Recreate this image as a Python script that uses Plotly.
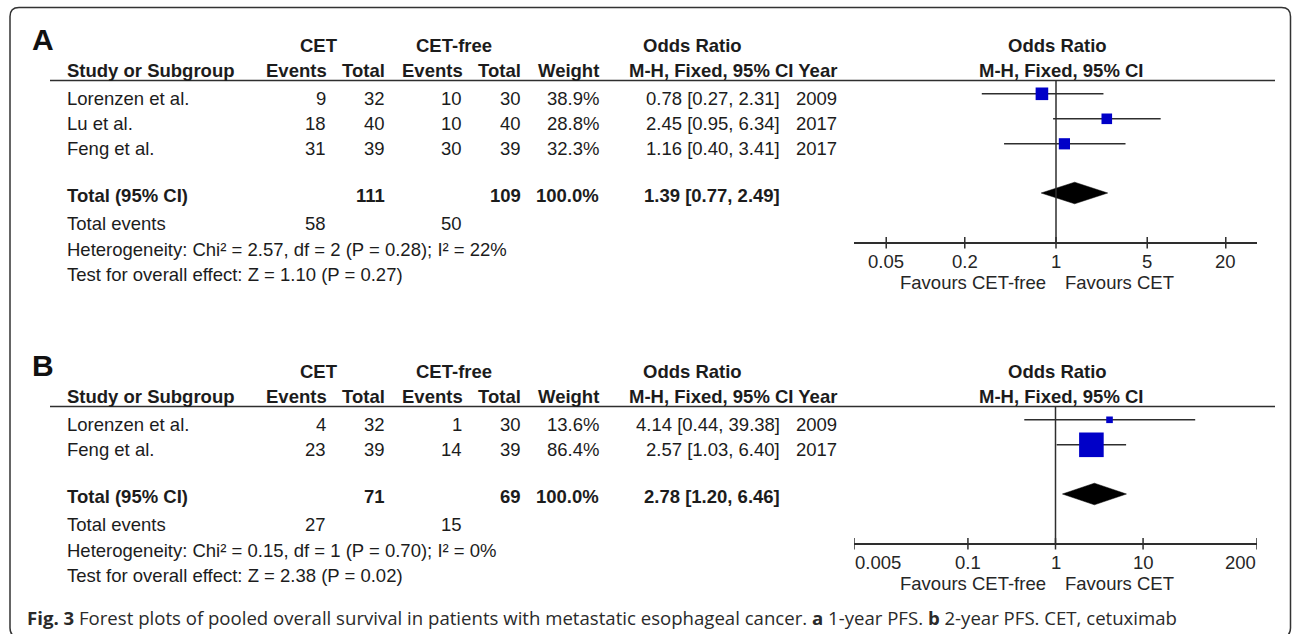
import math
import plotly.graph_objects as go

W, H = 1292, 634

# ---------------- Panel A data (1-year PFS) ----------------
studies_a = ["Lorenzen et al.", "Lu et al.", "Feng et al."]
cet_events_a = [9, 18, 31]
cet_total_a = [32, 40, 39]
free_events_a = [10, 10, 30]
free_total_a = [30, 40, 39]
weight_a = [38.9, 28.8, 32.3]
or_a = [0.78, 2.45, 1.16]
ci_low_a = [0.27, 0.95, 0.40]
ci_high_a = [2.31, 6.34, 3.41]
year_a = [2009, 2017, 2017]
pooled_a = [1.39, 0.77, 2.49]          # OR, low, high
sum_total_a = [111, 109]
sum_events_a = [58, 50]
heterogeneity_a = "Heterogeneity: Chi² = 2.57, df = 2 (P = 0.28); I² = 22%"
overall_a = "Test for overall effect: Z = 1.10 (P = 0.27)"
ticks_a = [0.05, 0.2, 1, 5, 20]

# ---------------- Panel B data (2-year PFS) ----------------
studies_b = ["Lorenzen et al.", "Feng et al."]
cet_events_b = [4, 23]
cet_total_b = [32, 39]
free_events_b = [1, 14]
free_total_b = [30, 39]
weight_b = [13.6, 86.4]
or_b = [4.14, 2.57]
ci_low_b = [0.44, 1.03]
ci_high_b = [39.38, 6.40]
year_b = [2009, 2017]
pooled_b = [2.78, 1.20, 6.46]
sum_total_b = [71, 69]
sum_events_b = [27, 15]
heterogeneity_b = "Heterogeneity: Chi² = 0.15, df = 1 (P = 0.70); I² = 0%"
overall_b = "Test for overall effect: Z = 2.38 (P = 0.02)"
ticks_b = [0.005, 0.1, 1, 10, 200]

caption = ("<b>Fig. 3</b> Forest plots of pooled overall survival in patients with "
           "metastatic esophageal cancer. <b>a</b> 1-year PFS. <b>b</b> 2-year PFS. "
           "CET, cetuximab")

# ---------------- styles ----------------
ARIAL = "Liberation Sans, Arial, Helvetica, sans-serif"
TXT = "#1c1c1c"
LINE = "#2e2e2e"
BLUE = "#0000C8"
FS = 18.5
AX_L, AX_R = 854, 1257          # pixel extent of forest axis

annotations = []
shapes = []
traces = []


def text(s, x, y, anchor="left", size=FS, bold=False, color=TXT, family=ARIAL,
         xref="x3"):
    annotations.append(dict(
        text=("<b>%s</b>" % s) if bold else s, x=x, y=y, xref=xref, yref="y",
        xanchor=anchor, yanchor="middle", showarrow=False, borderpad=0,
        font=dict(family=family, size=size, color=color)))


def hline(x0, x1, y, width=1.5):
    shapes.append(dict(type="line", xref="x3", yref="y", x0=x0, x1=x1, y0=y, y1=y,
                       line=dict(color=LINE, width=width)))


def panel(letter, top, xname, studies, ce, ct, fe, ft, wt, orr, lo, hi, yr,
          pooled, stot, sev, het, ovr, ticks, box_px, tick_anchor):
    text(letter, 42.5, top + 39, anchor="center", size=30, bold=True, color="#111")
    # headers
    h1, h2 = top + 45, top + 70
    text("CET", 318.7, h1, "center", bold=True)
    text("CET-free", 454, h1, "center", bold=True)
    text("Odds Ratio", 692.7, h1, "center", bold=True)
    text("Odds Ratio", 1057, h1, "center", bold=True)
    text("Study or Subgroup", 65.5, h2, "left", bold=True)
    text("Events", 327.5, h2, "right", bold=True)
    text("Total", 386.4, h2, "right", bold=True)
    text("Events", 463.5, h2, "right", bold=True)
    text("Total", 522.4, h2, "right", bold=True)
    text("Weight", 600, h2, "right", bold=True)
    text("M-H, Fixed, 95% CI Year", 838.3, h2, "right", bold=True)
    text("M-H, Fixed, 95% CI", 1060.5, h2, "center", bold=True)
    y_head = top + 80.5
    hline(50, 1275, y_head)

    rows = [top + 98.3 + 25 * i for i in range(len(studies))]
    for i, s in enumerate(studies):
        y = rows[i]
        text(s, 65.5, y, "left")
        text(str(ce[i]), 327, y, "right")
        text(str(ct[i]), 386, y, "right")
        text(str(fe[i]), 463, y, "right")
        text(str(ft[i]), 522, y, "right")
        text("%.1f%%" % wt[i], 600, y, "right")
        text("%.2f [%.2f, %.2f]" % (orr[i], lo[i], hi[i]), 781, y, "right")
        text(str(yr[i]), 838.3, y, "right")

    y_tot = rows[-1] + 47
    text("Total (95% CI)", 65.5, y_tot, "left", bold=True)
    text(str(stot[0]), 386, y_tot, "right", bold=True)
    text(str(stot[1]), 522, y_tot, "right", bold=True)
    text("100.0%", 600.3, y_tot, "right", bold=True)
    text("%.2f [%.2f, %.2f]" % tuple(pooled), 781, y_tot, "right", bold=True)
    text("Total events", 65.5, y_tot + 28.4, "left")
    text(str(sev[0]), 327, y_tot + 28.4, "right")
    text(str(sev[1]), 463, y_tot + 28.4, "right")
    text(het, 65.5, y_tot + 54, "left")
    text(ovr, 65.5, y_tot + 79, "left")

    # ---- forest plot ----
    y_axis = y_tot + 47.5
    fy = [r - 4.5 for r in rows]
    cx, cy = [], []
    for i in range(len(studies)):
        cx += [lo[i], hi[i], None]
        cy += [fy[i], fy[i], None]
    traces.append(go.Scatter(x=cx, y=cy, xaxis=xname, yaxis="y", mode="lines",
                             line=dict(color=LINE, width=1.5), hoverinfo="skip",
                             showlegend=False))
    traces.append(go.Scatter(x=orr, y=fy, xaxis=xname, yaxis="y", mode="markers",
                             marker=dict(symbol="square", size=box_px, color=BLUE,
                                         opacity=1, line=dict(width=0, color=BLUE)),
                             showlegend=False, hoverinfo="skip"))
    yd = y_tot - 2.3
    hd = 10.8
    traces.append(go.Scatter(x=[pooled[1], pooled[0], pooled[2], pooled[0], pooled[1]],
                             y=[yd, yd - hd, yd, yd + hd, yd],
                             xaxis=xname, yaxis="y", mode="lines", fill="toself",
                             fillcolor="#000000", line=dict(color="#000000", width=0.5),
                             showlegend=False, hoverinfo="skip"))
    # line of no effect
    shapes.append(dict(type="line", xref=xname, yref="y", x0=1, x1=1,
                       y0=y_head, y1=y_axis, line=dict(color=LINE, width=1.5)))
    # ticks crossing the axis + labels
    for k, t in enumerate(ticks):
        shapes.append(dict(type="line", xref=xname, yref="y", x0=t, x1=t,
                           y0=y_axis - 5.7, y1=y_axis + 5.7,
                           line=dict(color=LINE, width=1.5)))
        lab = ("%g" % t)
        text(lab, math.log10(t), y_axis + 18.5, tick_anchor[k], color="#262626",
             xref=xname)
    text("Favours CET-free", 1047, y_axis + 39.5, "right", color="#262626")
    text("Favours CET", 1064, y_axis + 39.5, "left", color="#262626")
    return y_axis


ya = panel("A", 0, "x", studies_a, cet_events_a, cet_total_a, free_events_a,
           free_total_a, weight_a, or_a, ci_low_a, ci_high_a, year_a, pooled_a,
           sum_total_a, sum_events_a, heterogeneity_a, overall_a, ticks_a,
           [12.6, 10.6, 11.2], ["center"] * 5)
yb = panel("B", 326, "x2", studies_b, cet_events_b, cet_total_b, free_events_b,
           free_total_b, weight_b, or_b, ci_low_b, ci_high_b, year_b, pooled_b,
           sum_total_b, sum_events_b, heterogeneity_b, overall_b, ticks_b,
           [6.6, 24.6], ["left", "center", "center", "center", "right"])

# caption
text(caption, 26, 617, "left", size=18.6, color="#2a2a2a",
     family="Open Sans, Noto Sans, sans-serif")

# rounded frame (bottom edge runs just past the picture)
L, T, R, B, r = 10, 7.5, 1290.5, 637, 9
path = (f"M {L+r},{T} L {R-r},{T} Q {R},{T} {R},{T+r} L {R},{B-r} Q {R},{B} {R-r},{B} "
        f"L {L+r},{B} Q {L},{B} {L},{B-r} L {L},{T+r} Q {L},{T} {L+r},{T} Z")
shapes.append(dict(type="path", xref="x3", yref="y", path=path,
                   line=dict(color="#333333", width=1.5)))

# invisible trace to create the pixel-space subplot
traces.append(go.Scatter(x=[0], y=[0], xaxis="x3", yaxis="y", mode="markers",
                         marker=dict(opacity=0), showlegend=False, hoverinfo="skip"))

fig = go.Figure(data=traces)

decade_a = 130.5
common = dict(type="log", domain=[AX_L / W, AX_R / W], anchor="free",
              showline=True, linecolor=LINE, linewidth=1.5, ticks="",
              showticklabels=False, showgrid=False, zeroline=False)
fig.update_layout(
    width=W, height=H, margin=dict(l=0, r=0, t=0, b=0),
    paper_bgcolor="white", plot_bgcolor="rgba(0,0,0,0)",
    showlegend=False,
    xaxis=dict(**common, range=[-(1056 - AX_L) / decade_a, (AX_R - 1056) / decade_a],
               position=1 - ya / H, tickvals=ticks_a),
    xaxis2=dict(**common, range=[math.log10(ticks_b[0]), math.log10(ticks_b[-1])],
                position=1 - yb / H, tickvals=ticks_b),
    xaxis3=dict(domain=[0, 1], range=[0, W], anchor="y", visible=False),
    yaxis=dict(domain=[0, 1], range=[H, 0], visible=False),
    annotations=annotations,
    shapes=shapes,
)

fig.write_html("out.html", config={"displayModeBar": False},
               post_script="document.body.style.margin='0px';"
                           "document.body.style.overflow='hidden';")
